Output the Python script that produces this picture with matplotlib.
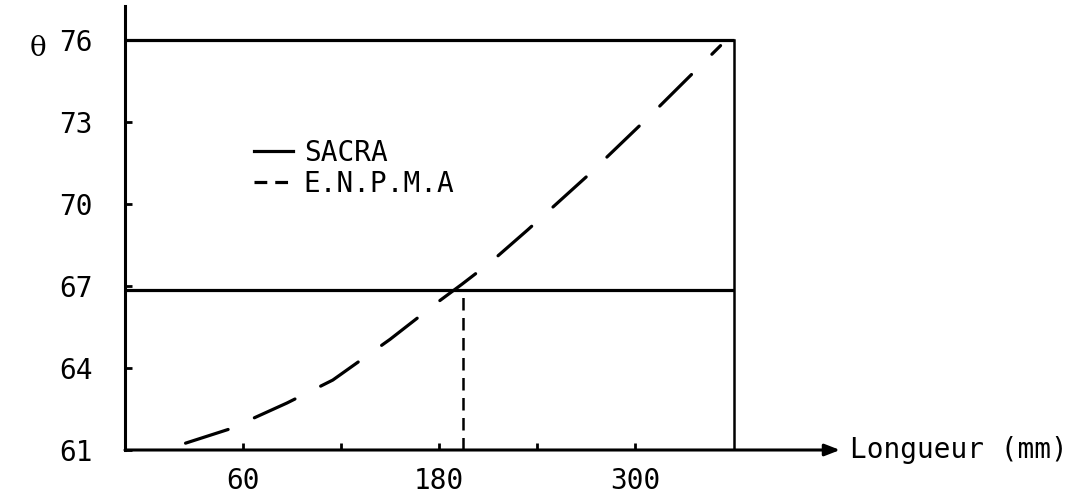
import matplotlib.pyplot as plt
from matplotlib.lines import Line2D

# valeurs
longueur_enpma = [25, 52, 87, 115, 150, 180, 194, 212, 234, 270, 310, 352]
theta_enpma = [61.25, 61.77, 62.72, 63.56, 65.05, 66.45, 67.07, 67.9, 69.05, 71.0, 73.3, 75.8]
theta_sacra = 66.85
longueur_croisement = 194.5
longueur_max = 360
theta_max = 76

y_ticks = [61, 64, 67, 70, 73, 76]
x_ticks = [60, 120, 180, 240, 300]
x_labels = ['60', '', '180', '', '300']

plt.rcParams['font.family'] = ['DejaVu Sans Mono']

fig = plt.figure(figsize=(10.89, 4.96), dpi=100)
ax = fig.add_axes([125 / 1089, 46 / 496, 715 / 1089, 444 / 496])
ax.set_xlim(-12, 425)
ax.set_ylim(61, 77.25)

lw = 2.3
# SACRA + cadre
ax.plot([-12, longueur_max], [theta_sacra, theta_sacra], color='black', lw=lw, solid_capstyle='butt')
ax.plot([-12, longueur_max], [theta_max, theta_max], color='black', lw=lw, solid_capstyle='butt')
ax.plot([longueur_max, longueur_max], [61, theta_max], color='black', lw=1.8)
# E.N.P.M.A
ax.plot(longueur_enpma, theta_enpma, color='black', lw=lw, linestyle=(0, (14, 9)),
        dash_capstyle='round')
# verticale au croisement
ax.plot([longueur_croisement, longueur_croisement], [61, theta_sacra], color='black',
        lw=1.8, linestyle=(0, (5, 3)))

# axes
for s in ['top', 'right', 'bottom']:
    ax.spines[s].set_visible(False)
ax.spines['left'].set_linewidth(2.2)
ax.annotate('', xy=(425, 61), xytext=(-12, 61), xycoords='data',
            arrowprops=dict(arrowstyle='-|>,head_length=0.9,head_width=0.35',
                            color='black', lw=2.2, shrinkA=0, shrinkB=0),
            annotation_clip=False)

ax.set_yticks(y_ticks)
ax.set_xticks(x_ticks)
ax.set_xticklabels(x_labels)
ax.tick_params(axis='y', direction='in', length=5, width=2, pad=23, labelsize=20)
ax.tick_params(axis='x', direction='in', length=5, width=2, pad=12, labelsize=20)

fig.text(38 / 1089, 1 - 49 / 496, 'θ', family='DejaVu Serif', fontsize=20,
         ha='center', va='center')
fig.text(850 / 1089, 1 - 450 / 496, 'Longueur (mm)', fontsize=20, ha='left', va='center')

handles = [Line2D([], [], color='black', lw=lw),
           Line2D([], [], color='black', lw=lw, linestyle=(0, (4, 2.5)))]
ax.legend(handles, ['SACRA', 'E.N.P.M.A'], loc='upper left', bbox_to_anchor=(0.18, 0.70),
          frameon=False, fontsize=20, handlelength=1.4, handletextpad=0.4,
          labelspacing=0.1, borderpad=0, borderaxespad=0)

fig.savefig('out.png', dpi=100)
